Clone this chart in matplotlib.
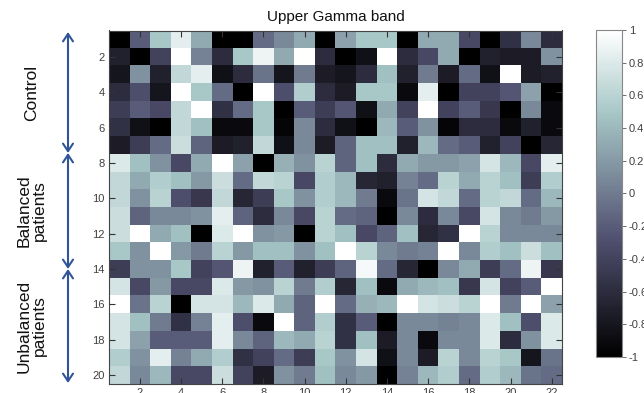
import numpy as np
import matplotlib
matplotlib.use('Agg')
import matplotlib.pyplot as plt
from matplotlib.ticker import FuncFormatter

plt.rcParams['font.family'] = ['Liberation Sans', 'DejaVu Sans']

# ---------------- data (rows = subjects, columns = channels) ----------------
control_rows = [
    [-1, -0.2, 0.5, 0.85, 0.3, -1, -1, -0.1, 0.1, 0.3, -1, 0.25, 0.5, 0.5, -1, 0.3, 0.3, -0.35, -1, -0.55, 0.1, -0.6],
    [-0.7, -1, -0.4, 1, 0.05, -0.6, 0.5, 0.9, 0.3, 1, -0.6, -1, -0.85, 1, -0.6, -0.35, 0.3, -1, -0.7, -0.75, -0.75, 0.15],
    [-0.8, 0.15, -0.7, 0.65, 0.85, -0.85, -0.6, -0.05, -0.8, 0.0, -0.75, -0.8, -0.6, 0.45, -0.7, 0.0, -0.75, -0.1, -0.85, 1, -0.75, -0.7],
    [-0.6, -0.3, -0.8, 1, 0.5, -0.1, -1, 1, -0.3, 0.55, -0.6, -0.75, 0.5, 0.5, -0.9, 0.85, -1, -0.4, -0.4, -0.25, 0.25, -1],
    [-0.45, -0.2, -0.35, 0.65, 1, -0.55, -0.1, 0.5, -1, -0.2, -0.45, -0.25, -0.85, 0.3, -0.4, 1, -0.4, -0.2, -0.5, -1, 0.1, -0.9],
    [-0.55, -0.85, -1, 0.65, 0.45, -0.9, -0.9, 0.5, -0.95, 0.1, -0.6, -0.85, -1, 0.4, -0.2, 0.15, -0.95, -0.6, -0.6, -0.9, -0.7, -0.9],
    [-0.75, -0.45, -0.1, 0.7, -0.15, -0.75, -0.7, 0.65, -0.85, 0.1, -0.75, -0.15, 0.45, 0.45, -0.7, 0.4, -0.1, -0.2, -0.7, -0.4, -1, -0.65],
]
balanced_rows = [
    [0.8, 0.45, 0.15, -0.35, 0.3, 1, 0.25, -1, 0.35, 0.15, 0.6, -0.15, 0.45, -0.6, 0.3, 0.2, 0.2, 0.25, 0.75, 0.4, -0.35, 0.85],
    [0.65, 0.3, 0.55, 0.45, 0.2, 0.7, -0.1, 0.65, 0.6, -0.35, 0.55, 0.4, -0.65, -0.7, 0.05, -0.1, 0.6, 0.3, 0.6, 0.45, -0.45, 0.55],
    [0.65, 0.15, 0.6, -0.3, -0.5, 0.65, -0.65, -0.45, 0.5, 0.15, 0.55, 0.4, 0.0, -0.9, -0.05, 0.75, 0.65, -0.1, 0.6, 0.65, -0.1, 0.4],
    [0.7, -0.15, 0.1, 0.1, 0.15, 0.85, -0.15, -0.6, 0.1, -0.35, 0.6, -0.1, -0.15, -1, 0.1, -0.6, 0.1, -0.35, 0.75, 0.1, 0.0, 0.2],
    [0.7, 1, 0.3, 0.45, -1, 0.8, 1, 0.15, 0.2, -1, 0.6, 0.45, -0.35, -0.15, 0.45, -0.65, -0.55, 1, 0.6, 0.1, 0.1, 0.1],
    [0.5, 0.15, 1, 0.2, 0.0, 0.6, 0.2, 0.45, 0.45, 0.15, 0.45, 1, 0.6, 0.1, 0.0, 0.05, 1, 0.1, 0.55, 0.45, 0.7, 0.45],
    [-0.45, 0.15, 0.15, 0.5, -0.4, -0.25, 0.9, -0.7, -0.2, -0.7, -0.45, -0.15, 0.95, -0.1, -0.65, -1, 0.1, 0.3, -0.45, -0.1, 0.9, -0.5],
]
unbalanced_rows = [
    [0.75, -0.35, 0.2, -0.35, -0.35, 0.8, 0.2, 0.15, 0.6, 0.0, 0.55, -0.65, 0.45, -0.9, 0.3, 0.4, 0.45, -0.5, 0.75, -0.4, -0.2, 1],
    [1, -0.05, 0.6, -1, 0.75, 0.75, 0.4, 0.8, 0.3, -0.15, 1, -0.1, 0.35, 0.4, 1, 0.75, 0.7, 0.6, 1, 0.0, 1, 0.25],
    [0.75, 0.45, 0.0, -0.55, 0.05, 0.85, -0.3, -0.9, 1, -0.15, 0.55, -0.55, -0.2, -1, 0.1, 0.1, 0.05, 0.1, 0.8, 0.45, -0.3, 0.8],
    [0.75, 0.25, -0.2, -0.2, -0.2, 0.85, 0.1, -0.15, 0.4, 0.3, 0.6, -0.55, 0.45, -0.75, 0.1, -0.9, 0.1, 0.1, 0.8, -0.6, 0.15, 0.8],
    [0.55, 0.15, 0.85, 0.05, 0.3, 0.55, -0.55, -0.4, -0.1, -0.45, 0.5, 0.15, 0.75, -0.85, 0.1, -0.75, 0.6, 0.1, 0.6, 0.5, -0.8, -0.05],
    [0.65, 0.1, 0.4, -0.35, -0.35, 0.7, -0.4, -0.75, 0.15, 0.0, 0.45, 0.1, 0.2, -1, 0.05, 0.4, 0.55, -0.1, 0.55, 0.4, -0.05, -0.1],
]
group_labels = ['Control', 'Balanced\npatients', 'Unbalanced\npatients']
x_ticks = list(range(2, 23, 2))
y_ticks = list(range(2, 21, 2))
cbar_ticks = np.linspace(-1, 1, 11)

data = np.array(control_rows + balanced_rows + unbalanced_rows)
n_rows, n_cols = data.shape

# ---------------- figure ----------------
W, H = 644, 393
fig = plt.figure(figsize=(W / 100, H / 100), dpi=100)
ax = fig.add_axes([109 / W, 1 - 384 / H, 453 / W, 353.5 / H])

im = ax.imshow(data, cmap='bone', vmin=-1, vmax=1, aspect='auto',
               interpolation='nearest',
               extent=(0.5, n_cols + 0.5, n_rows + 0.5, 0.5))
ax.set_xticks(x_ticks)
ax.set_yticks(y_ticks)
ax.tick_params(direction='in', length=4, width=0.8, color='#333333',
               labelsize=8, labelcolor='#404040',
               top=True, right=True, pad=3)
for s in ax.spines.values():
    s.set_color('#444444')
    s.set_linewidth(0.8)
ax.set_title('Upper Gamma band', fontsize=11, pad=7, color='#111111')

# ---------------- colorbar ----------------
cax = fig.add_axes([596 / W, 1 - 357 / H, 26 / W, 327 / H])
cb = fig.colorbar(im, cax=cax, ticks=cbar_ticks)
cb.outline.set_edgecolor('#888888')
cb.outline.set_linewidth(0.8)
cax.tick_params(direction='out', length=3, width=0.6, color='#555555',
                labelsize=8, labelcolor='#404040', pad=2)
cax.yaxis.set_major_formatter(FuncFormatter(lambda v, p: '%g' % round(v, 1)))

# ---------------- group arrows and labels (figure pixels) ----------------
arrow_color = '#2f5597'
segments = [(32, 153), (153, 269), (269, 383)]
for (y0, y1), lab in zip(segments, group_labels):
    ax.annotate('', xy=(68, H - y1), xytext=(68, H - y0),
                xycoords='figure pixels', textcoords='figure pixels',
                arrowprops=dict(arrowstyle='<->,head_length=0.45,head_width=0.3',
                                color=arrow_color, lw=1.5,
                                shrinkA=0, shrinkB=0, mutation_scale=12),
                annotation_clip=False)
    fig.text(32 / W, 1 - (y0 + y1) / 2 / H, lab, rotation=90,
             ha='center', va='center', fontsize=12.5, color='#111111',
             linespacing=1.05, multialignment='center')

fig.savefig('out.png', dpi=100)
